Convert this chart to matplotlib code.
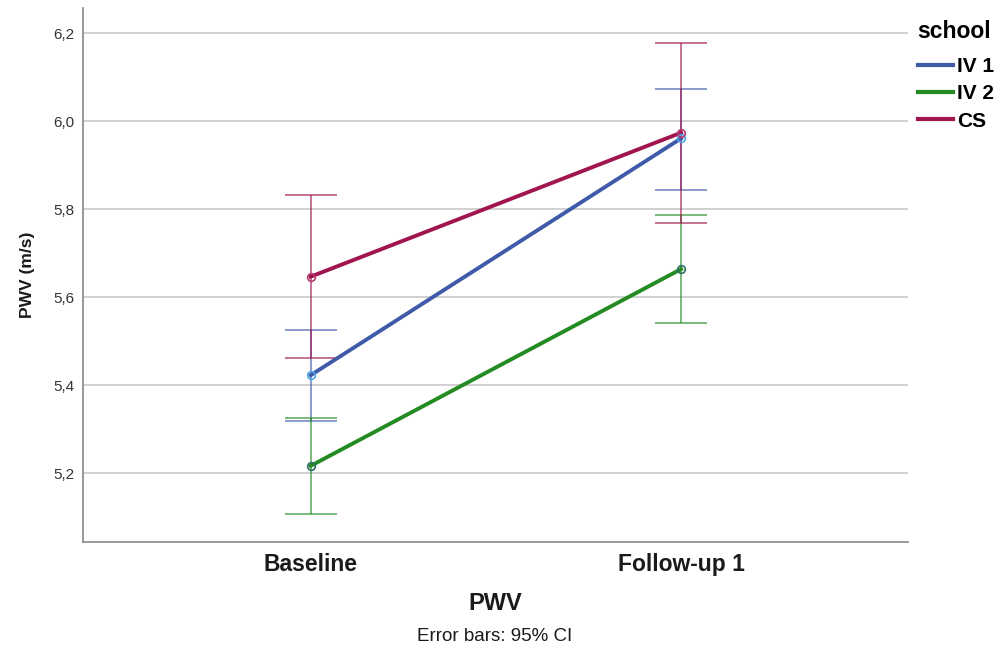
import matplotlib
matplotlib.use("Agg")
import matplotlib.pyplot as plt
from matplotlib.ticker import FuncFormatter
from matplotlib.lines import Line2D

plt.rcParams['font.family'] = ['Liberation Sans', 'DejaVu Sans']

# data (means and 95% CI bounds)
timepoints = ["Baseline", "Follow-up 1"]
groups = ["IV 1", "IV 2", "CS"]
means = {
    "IV 1": [5.423, 5.961],
    "IV 2": [5.217, 5.664],
    "CS": [5.647, 5.974],
}
ci_low = {
    "IV 1": [5.320, 5.844],
    "IV 2": [5.107, 5.541],
    "CS": [5.463, 5.768],
}
ci_high = {
    "IV 1": [5.526, 6.074],
    "IV 2": [5.325, 5.786],
    "CS": [5.833, 6.177],
}

line_colors = {"IV 1": "#3f5aa9", "IV 2": "#238b22", "CS": "#a0154f"}
marker_colors = {"IV 1": "#4aa8e6", "IV 2": "#2e6f62", "CS": "#b8396e"}

fig = plt.figure(figsize=(10.01, 6.5), dpi=100)
ax = fig.add_axes([0.0829, 0.1662, 0.8242, 0.8215])

x = list(range(len(timepoints)))
for g in groups:
    lo = [m - l for m, l in zip(means[g], ci_low[g])]
    hi = [h - m for m, h in zip(means[g], ci_high[g])]
    ax.errorbar(x, means[g], yerr=[lo, hi], fmt='none', ecolor=line_colors[g],
                elinewidth=1.2, capsize=19, capthick=1.2, alpha=0.7, zorder=3)
for g in groups:
    ax.plot(x, means[g], color=line_colors[g], lw=2.8, zorder=4)
    ax.plot(x, means[g], 'o', ms=5.5, mfc='none', mec=marker_colors[g], mew=1.2, zorder=5)

ax.set_xlim(-0.615, 1.613)
ax.set_ylim(5.044, 6.2575)
ax.set_yticks([5.2, 5.4, 5.6, 5.8, 6.0, 6.2])
ax.yaxis.set_major_formatter(FuncFormatter(lambda v, p: f"{v:.1f}".replace('.', ',')))
ax.set_xticks(x)
ax.set_xticklabels(timepoints, fontsize=16.5, fontweight='bold', color='#1a1a1a')
ax.tick_params(axis='x', length=0, pad=8)
ax.tick_params(axis='y', length=0, pad=6, labelsize=11, labelcolor='#333333')
ax.grid(axis='y', color='#c8c8c8', lw=1.2)
ax.set_axisbelow(True)
for s in ['top', 'right']:
    ax.spines[s].set_visible(False)
for s in ['left', 'bottom']:
    ax.spines[s].set_color('#888888')
    ax.spines[s].set_linewidth(1.2)

ax.set_ylabel("PWV (m/s)", fontsize=12.5, fontweight='bold', color='#1a1a1a', labelpad=13)
fig.text(0.4945, 0.062, "PWV", ha='center', fontsize=17, fontweight='bold', color='#1a1a1a')
fig.text(0.4945, 0.014, "Error bars: 95% CI", ha='center', fontsize=13.5, color='#1a1a1a')

handles = [Line2D([0], [0], color=line_colors[g], lw=3) for g in groups]
leg = fig.legend(handles, groups, loc='upper left', bbox_to_anchor=(0.898, 0.998),
                 frameon=False, title="school", handlelength=1.68, handletextpad=0.2,
                 labelspacing=0.4, prop={'size': 15, 'weight': 'bold'},
                 title_fontproperties={'size': 16.5, 'weight': 'bold'})
leg._legend_box.align = "left"
leg._legend_box.sep = 10

fig.savefig("out.png", dpi=100)
